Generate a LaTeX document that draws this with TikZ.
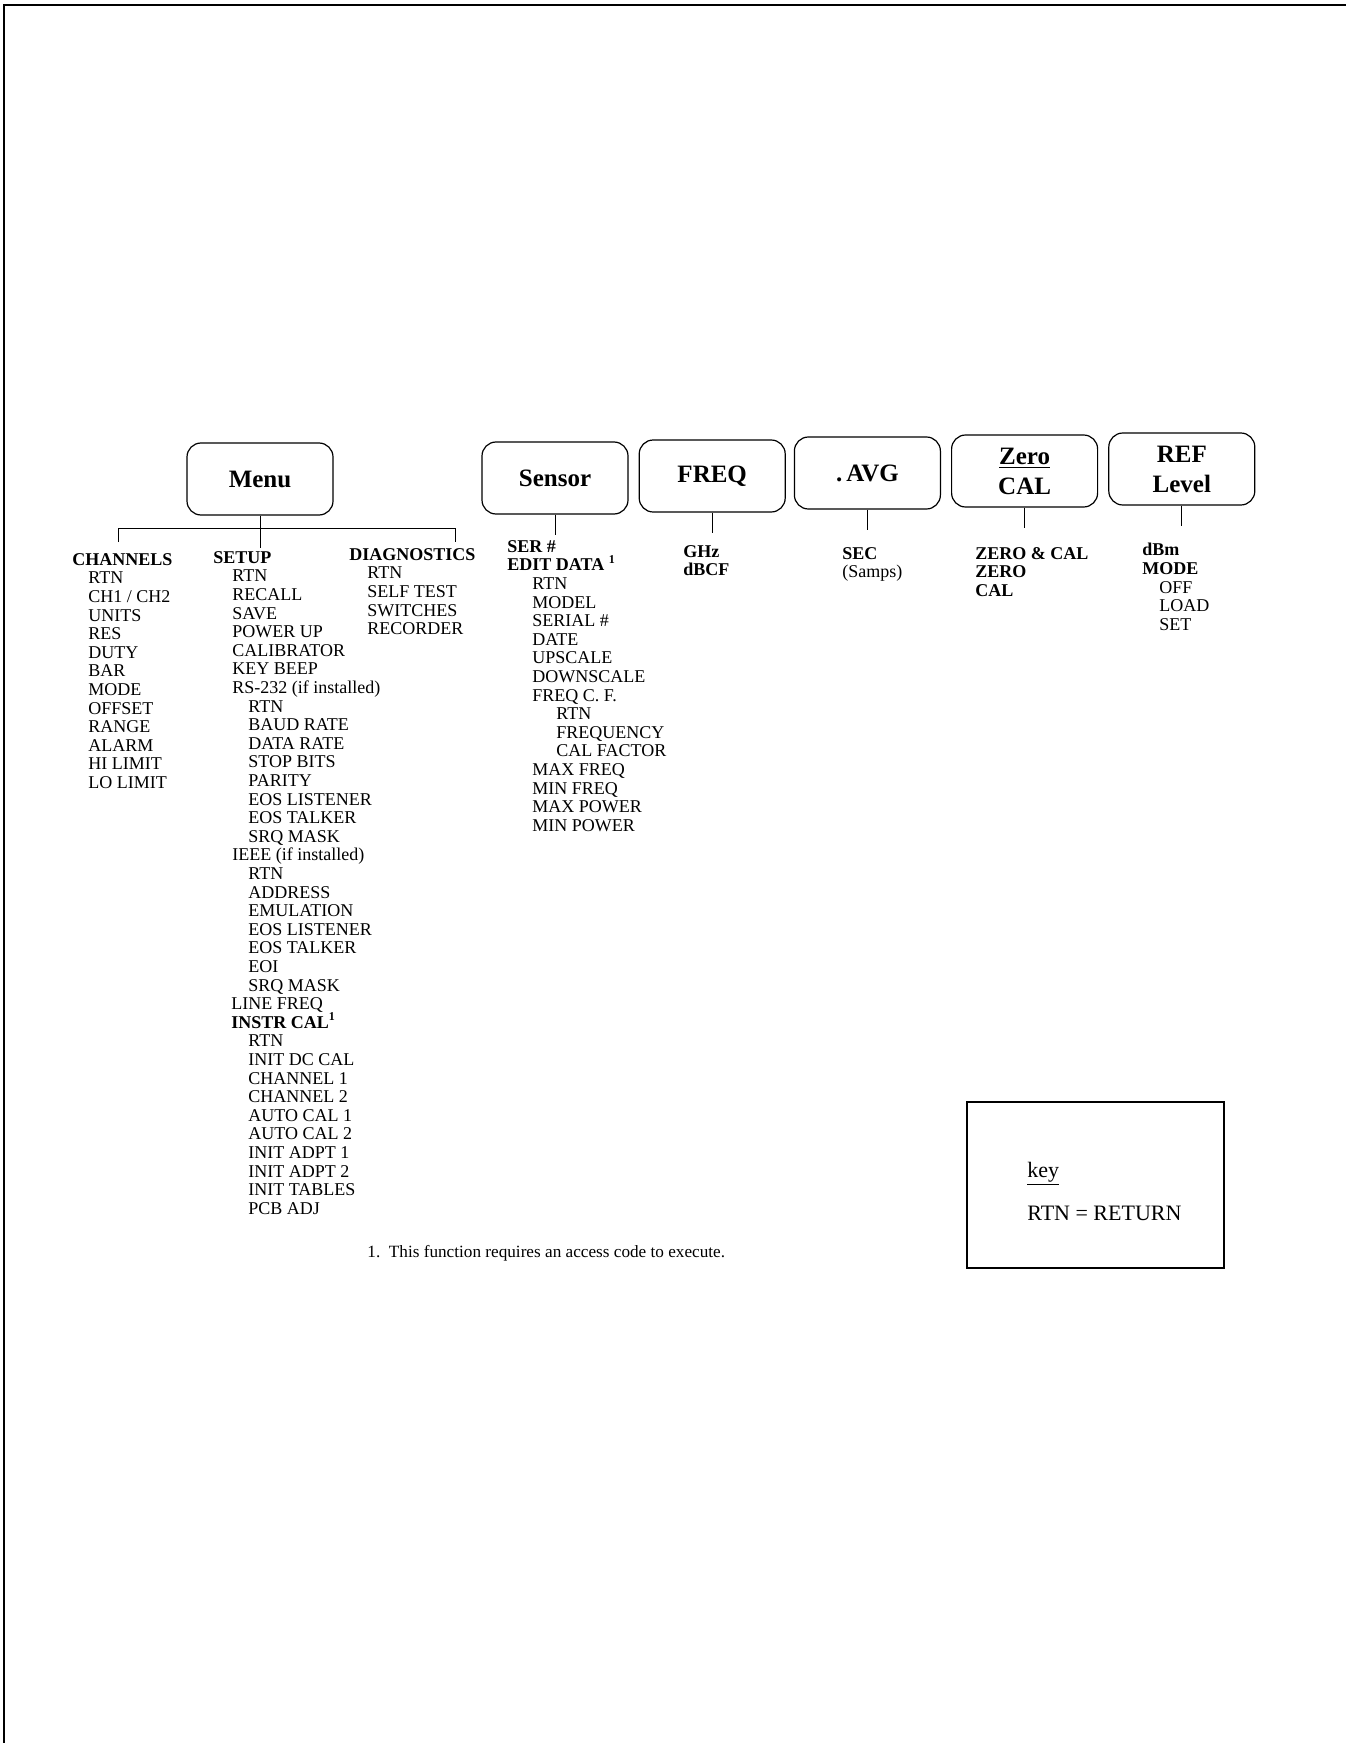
\documentclass[tikz,border=0pt]{standalone}
\usepackage{fontspec}
\setmainfont{Liberation Serif}
\usetikzlibrary{positioning}

\tikzstyle{keybox} = [rectangle, rounded corners=7pt, minimum width=73pt, minimum height=36pt, text centered, align=center, draw=black, line width=0.6pt, font=\bfseries\fontsize{12.5}{15}\selectfont]
\tikzstyle{entries} = [inner sep=0pt, anchor=north west, align=left, font=\fontsize{9}{9.3}\selectfont]
\tikzstyle{oneline} = [inner sep=0pt, anchor=base west]
\tikzstyle{link} = [line width=0.5pt]
\newcommand{\ind}[1]{\hspace*{#1}}

\begin{document}
\begin{tikzpicture}[x=0.5pt, y=-0.5pt, node distance=5pt]
\useasboundingbox (0,0) rectangle (1346,1743);

% page frame
\draw [line width=1.2pt] (4,1743) -- (4,5) -- (1346,5);

% front panel keys
\node (menu) [keybox] at (260,479) {Menu};
\node (sensor) [keybox] at (555,478) {Sensor};
\node (freq) [keybox, right=of sensor, yshift=1pt] {FREQ};
\node (avg) [keybox, right=4pt of freq, yshift=1.5pt] {.\,AVG};
\node (zero) [keybox, right=of avg, yshift=1pt] {\underline{Zero}\\CAL};
\node (ref) [keybox, right=of zero, yshift=1pt] {REF\\Level};

% menu tree
\coordinate (barL) at (118,528);
\coordinate (barR) at (455,528);
\draw [link] (menu.south) -- ++(0,32);
\draw [link] (barL) ++(0,14) -- (barL) -- (barR) -- ++(0,14);

\node (channels) [entries] at (72,553) {\textbf{CHANNELS}\\
\ind{8pt}RTN\\ \ind{8pt}CH1 / CH2\\ \ind{8pt}UNITS\\ \ind{8pt}RES\\ \ind{8pt}DUTY\\
\ind{8pt}BAR\\ \ind{8pt}MODE\\ \ind{8pt}OFFSET\\ \ind{8pt}RANGE\\ \ind{8pt}ALARM\\
\ind{8pt}HI LIMIT\\ \ind{8pt}LO LIMIT};

\node (setup) [entries] at (213,551) {\textbf{SETUP}\\
\ind{9.5pt}RTN\\ \ind{9.5pt}RECALL\\ \ind{9.5pt}SAVE\\ \ind{9.5pt}POWER UP\\
\ind{9.5pt}CALIBRATOR\\ \ind{9.5pt}KEY BEEP\\ \ind{9.5pt}RS-232 (if installed)\\
\ind{17.5pt}RTN\\ \ind{17.5pt}BAUD RATE\\ \ind{17.5pt}DATA RATE\\ \ind{17.5pt}STOP BITS\\
\ind{17.5pt}PARITY\\ \ind{17.5pt}EOS LISTENER\\ \ind{17.5pt}EOS TALKER\\ \ind{17.5pt}SRQ MASK\\
\ind{9.5pt}IEEE (if installed)\\
\ind{17.5pt}RTN\\ \ind{17.5pt}ADDRESS\\ \ind{17.5pt}EMULATION\\ \ind{17.5pt}EOS LISTENER\\
\ind{17.5pt}EOS TALKER\\ \ind{17.5pt}EOI\\ \ind{17.5pt}SRQ MASK\\
\ind{9pt}LINE FREQ\\
\ind{9pt}\textbf{INSTR CAL\textsuperscript{1}}\\
\ind{17.5pt}RTN\\ \ind{17.5pt}INIT DC CAL\\ \ind{17.5pt}CHANNEL 1\\ \ind{17.5pt}CHANNEL 2\\
\ind{17.5pt}AUTO CAL 1\\ \ind{17.5pt}AUTO CAL 2\\ \ind{17.5pt}INIT ADPT 1\\
\ind{17.5pt}INIT ADPT 2\\ \ind{17.5pt}INIT TABLES\\ \ind{17.5pt}PCB ADJ};

\node (diag) [entries] at (349,548) {\textbf{DIAGNOSTICS}\\
\ind{9pt}RTN\\ \ind{9pt}SELF TEST\\ \ind{9pt}SWITCHES\\ \ind{9pt}RECORDER};

% other keys
\draw [link] (sensor.south) -- ++(0,20);
\draw [link] (freq.south) -- ++(0,20);
\draw [link] (avg.south) -- ++(0,20);
\draw [link] (zero.south) -- ++(0,20);
\draw [link] (ref.south) -- ++(0,20);

\node (sensorlist) [entries] at (507,540) {\textbf{SER \#}\\
\textbf{EDIT DATA \textsuperscript{1}}\\
\ind{12.5pt}RTN\\ \ind{12.5pt}MODEL\\ \ind{12.5pt}SERIAL \#\\ \ind{12.5pt}DATE\\
\ind{12.5pt}UPSCALE\\ \ind{12.5pt}DOWNSCALE\\ \ind{12.5pt}FREQ C. F.\\
\ind{24.5pt}RTN\\ \ind{24.5pt}FREQUENCY\\ \ind{24.5pt}CAL FACTOR\\
\ind{12.5pt}MAX FREQ\\ \ind{12.5pt}MIN FREQ\\ \ind{12.5pt}MAX POWER\\ \ind{12.5pt}MIN POWER};

\node (freqlist) [entries] at (683,545) {\textbf{GHz}\\ \textbf{dBCF}};
\node (avglist) [entries] at (842,547) {\textbf{SEC}\\ (Samps)};
\node (zerolist) [entries] at (975,547) {\textbf{ZERO \& CAL}\\ \textbf{ZERO}\\ \textbf{CAL}};
\node (reflist) [entries] at (1142,543) {\textbf{dBm}\\ \textbf{MODE}\\
\ind{8.5pt}OFF\\ \ind{8.5pt}LOAD\\ \ind{8.5pt}SET};

% footnote and key
\node (note) [oneline, font=\fontsize{8.6}{9}\selectfont] at (367,1257) {1.\ \ This function requires an access code to execute.};
\node (legend) [rectangle, draw=black, line width=0.6pt, minimum width=128.5pt, minimum height=83pt] at (1095.5,1185) {};
\node (keyword) [oneline, font=\fontsize{11}{12}\selectfont] at (1027,1177) {\underline{key}};
\node (keytext) [oneline, font=\fontsize{11}{12}\selectfont] at (1027,1220) {RTN = RETURN};

\end{tikzpicture}
\end{document}
